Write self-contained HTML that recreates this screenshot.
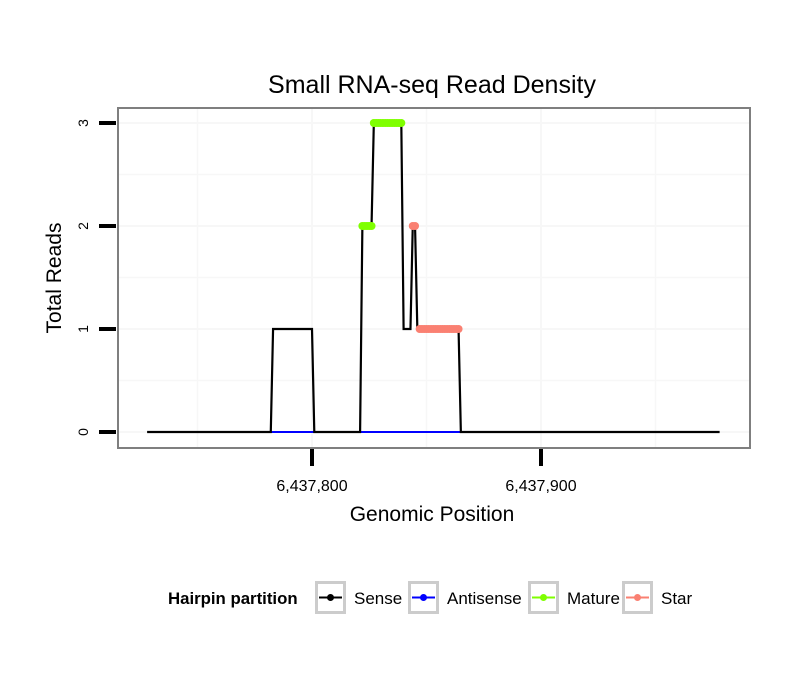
<!DOCTYPE html>
<html><head><meta charset="utf-8"><style>
body{margin:0;background:#fff;}
svg{font-family:"Liberation Sans",Arial,sans-serif;display:block;}
</style></head><body>
<svg id="chart" width="810" height="690" viewBox="0 0 810 690">
</svg>
<script>
const NS='http://www.w3.org/2000/svg';
// data
const xTickVals=[6437800,6437900];
const xTickLabels=['6,437,800','6,437,900'];
const yTickVals=[0,1,2,3];
const sensePos=[6437728,6437782,6437783,6437800,6437801,6437821,6437822,6437826,6437827,6437839,6437840,6437843,6437844,6437845,6437846,6437864,6437865,6437978];
const senseVal=[0,0,1,1,0,0,2,2,3,3,1,1,2,2,1,1,0,0];
const antisenseRanges=[[6437782,6437801],[6437821,6437865]];
const maturePos=[6437822,6437823,6437824,6437825,6437826,6437827,6437828,6437829,6437830,6437831,6437832,6437833,6437834,6437835,6437836,6437837,6437838,6437839];
const matureVal=[2,2,2,2,2,3,3,3,3,3,3,3,3,3,3,3,3,3];
const starPos=[6437844,6437845,6437847,6437848,6437849,6437850,6437851,6437852,6437853,6437854,6437855,6437856,6437857,6437858,6437859,6437860,6437861,6437862,6437863,6437864];
const starVal=[2,2,1,1,1,1,1,1,1,1,1,1,1,1,1,1,1,1,1,1];

const svg=document.getElementById('chart');
const L=118,R=750,T=108,B=448;
function xs(v){return 312+(v-6437800)*2.29;}
function ys(v){return 432-v*103;}
function mk(tag,attrs,parent){const e=document.createElementNS(NS,tag);for(const k in attrs)e.setAttribute(k,attrs[k]);(parent||svg).appendChild(e);return e;}

const gx=[6437750,6437800,6437850,6437900,6437950];
gx.forEach(v=>{const l=mk('line',{x1:xs(v),x2:xs(v),y1:T,y2:B,stroke:'#f7f7f7','stroke-width':v%100===0?2:1.5});

});
[0,0.5,1,1.5,2,2.5,3].forEach(v=>{const l=mk('line',{x1:L,x2:R,y1:ys(v),y2:ys(v),stroke:'#f7f7f7','stroke-width':v%1===0?2:1.5});

});

antisenseRanges.forEach(r=>{const l=mk('line',{x1:xs(r[0]),x2:xs(r[1]),y1:ys(0),y2:ys(0),stroke:'#0000ff','stroke-width':2});

});
const sp=mk('polyline',{points:sensePos.map((p,i)=>xs(p)+','+ys(senseVal[i])).join(' '),fill:'none',stroke:'#000','stroke-width':2.2});


function dots(pos,val,col,name){pos.forEach((p,i)=>{const c=mk('circle',{cx:xs(p),cy:ys(val[i]),r:4,fill:col});

});}
dots(maturePos,matureVal,'#7fff00','mature-point');
dots(starPos,starVal,'#fa8072','star-point');

const pb=mk('rect',{x:L,y:T,width:R-L,height:B-T,fill:'none',stroke:'#7f7f7f','stroke-width':2});



yTickVals.forEach(v=>{const t=mk('line',{x1:99,x2:116,y1:ys(v),y2:ys(v),stroke:'#000','stroke-width':4});


const tx=mk('text',{x:0,y:0,transform:`translate(88,${ys(v)}) rotate(-90)`,'text-anchor':'middle','font-size':14,fill:'#000'});
tx.textContent=v;

});
xTickVals.forEach((v,i)=>{const t=mk('line',{x1:xs(v),x2:xs(v),y1:449,y2:466,stroke:'#000','stroke-width':4});


const tx=mk('text',{x:xs(v),y:491,'text-anchor':'middle','font-size':16,fill:'#000'});
tx.textContent=xTickLabels[i];

});
</script>
<script>
(function(){
const svg=document.getElementById('chart');
function txt(x,y,s,size,name,extra){const e=document.createElementNS('http://www.w3.org/2000/svg','text');e.setAttribute('x',x);e.setAttribute('y',y);e.setAttribute('font-size',size);if(extra)for(const k in extra)e.setAttribute(k,extra[k]);e.textContent=s;


svg.appendChild(e);return e;}
txt(432,93,'Small RNA-seq Read Density',25,'chart-title',{'text-anchor':'middle'});
txt(432,521,'Genomic Position',21,'x-axis-title',{'text-anchor':'middle'});
txt(0,0,'Total Reads',21,'y-axis-title',{'text-anchor':'middle',transform:'translate(61,278) rotate(-90)'});
txt(168,604,'Hairpin partition',16.8,'legend-title',{'font-weight':'bold'});
const keys=[['Sense','#000',315,354],['Antisense','#0000ff',408,447],['Mature','#7fff00',528,567],['Star','#fa8072',622,661]];
keys.forEach(k=>{
const g=document.createElementNS('http://www.w3.org/2000/svg','g');


svg.appendChild(g);
g.innerHTML=`<rect x="${k[2]+1.5}" y="582.5" width="28" height="30" fill="#fff" stroke="#cccccc" stroke-width="3"/><line x1="${k[2]+4}" x2="${k[2]+27}" y1="597.5" y2="597.5" stroke="${k[1]}" stroke-width="2"/><circle cx="${k[2]+15.5}" cy="597.5" r="3.5" fill="${k[1]}"/>`;
txt(k[3],604,k[0],17,'legend-label');
});
})();
</script>
</body></html>
